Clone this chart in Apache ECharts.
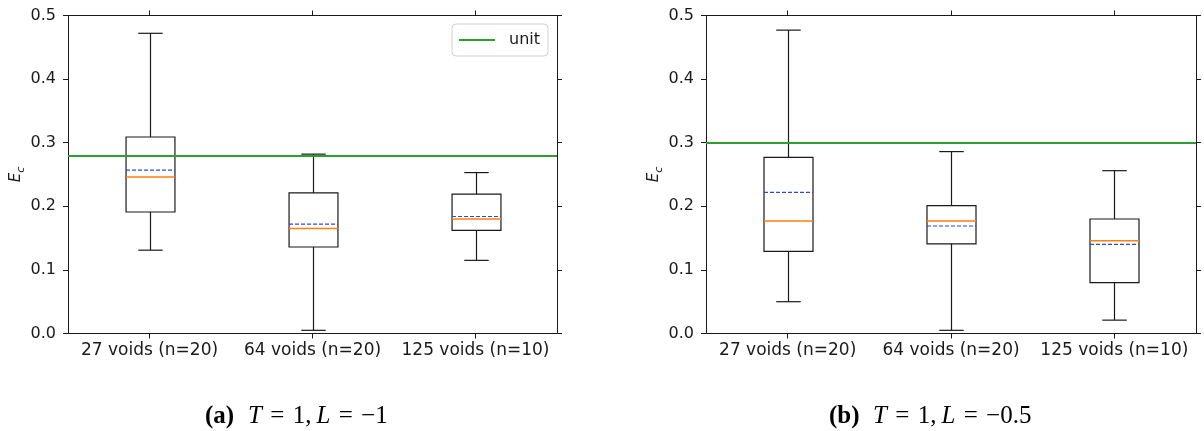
<!DOCTYPE html>
<html>
<head>
<meta charset="utf-8">
<script src="https://cdn.jsdelivr.net/npm/echarts@6/dist/echarts.min.js"></script>
<style>
  html, body { margin: 0; padding: 0; background: #fff; }
  #chart { width: 1204px; height: 431px; }
</style>
</head>
<body>
<div id="chart"></div>
<script>
// Box-plot statistics of E_c per void count
const categories = ['27 voids (n=20)', '64 voids (n=20)', '125 voids (n=10)'];
const yTicks = [0.0, 0.1, 0.2, 0.3, 0.4, 0.5];

// (a) T = 1, L = -1
const whiskerLowA  = [0.131, 0.005, 0.115];
const q1A          = [0.191, 0.136, 0.162];
const medianA      = [0.246, 0.165, 0.180];
const q3A          = [0.309, 0.221, 0.219];
const whiskerHighA = [0.472, 0.282, 0.253];
const meanA        = [0.257, 0.172, 0.184];
const unitA = 0.282;

// (b) T = 1, L = -0.5
const whiskerLowB  = [0.050, 0.005, 0.021];
const q1B          = [0.129, 0.141, 0.080];
const medianB      = [0.177, 0.177, 0.146];
const q3B          = [0.277, 0.201, 0.180];
const whiskerHighB = [0.477, 0.286, 0.256];
const meanB        = [0.222, 0.169, 0.140];
const unitB = 0.297;

const FONT = 'DejaVu Sans';
const INK = '#1a1a1a';
const ORANGE = '#ff7f0e';
const BLUE = '#3348c4';
const GREEN = '#2ca02c';

function boxRows(low, q1, med, q3, high, mean) {
  return categories.map((_, i) => [i, low[i], q1[i], med[i], q3[i], high[i], mean[i]]);
}

function renderBox(params, api) {
  const x = api.value(0);
  const band = api.size([1, 0])[0];
  const half = band * 0.15;
  const cap = half / 2;
  const p = k => api.coord([x, api.value(k)]);
  const low = p(1), q1 = p(2), med = p(3), q3 = p(4), high = p(5), mean = p(6);
  const cx = Math.round(low[0]) + 0.5;
  const line = (x1, y1, x2, y2, style) => ({
    type: 'line',
    shape: { x1, y1, x2, y2 },
    style: Object.assign({ stroke: INK, lineWidth: 1.2 }, style || {})
  });
  return {
    type: 'group',
    children: [
      line(cx, low[1], cx, q1[1]),
      line(cx, q3[1], cx, high[1]),
      line(cx - cap, low[1], cx + cap, low[1]),
      line(cx - cap, high[1], cx + cap, high[1]),
      {
        type: 'rect',
        shape: { x: cx - half, y: q3[1], width: half * 2, height: q1[1] - q3[1] },
        style: { fill: 'none', stroke: INK, lineWidth: 1.2 }
      },
      line(cx - half, med[1], cx + half, med[1], { stroke: ORANGE, lineWidth: 1.5 }),
      line(cx - half, mean[1], cx + half, mean[1], { stroke: BLUE, lineWidth: 1.2, lineDash: [4, 2] })
    ]
  };
}

const gridA = { left: 68, top: 15.5, width: 489, height: 318 };
const gridB = { left: 706, top: 15.5, width: 490, height: 318 };

function xAxes(gridIndex) {
  return [
    {
      type: 'category', gridIndex, data: categories, position: 'bottom',
      axisLine: { onZero: false, lineStyle: { color: INK, width: 1 } },
      axisTick: { show: true, interval: 0, alignWithLabel: true, length: 5, lineStyle: { color: INK } },
      axisLabel: { interval: 0, color: INK, fontFamily: FONT, fontSize: 17, margin: 9 },
      splitLine: { show: false }
    },
    {
      type: 'category', gridIndex, data: categories, position: 'top',
      axisLine: { show: true, onZero: false, lineStyle: { color: INK, width: 1 } },
      axisTick: { show: true, interval: 0, alignWithLabel: true, length: 5, lineStyle: { color: INK } },
      axisLabel: { show: false, interval: 0 },
      splitLine: { show: false }
    }
  ];
}

function yAxes(gridIndex) {
  return [
    {
      type: 'value', gridIndex, position: 'left',
      min: yTicks[0], max: yTicks[yTicks.length - 1], interval: 0.1,
      axisLine: { show: true, onZero: false, lineStyle: { color: INK, width: 1 } },
      axisTick: { show: true, length: 5, lineStyle: { color: INK } },
      axisLabel: { color: INK, fontFamily: FONT, fontSize: 16, margin: 12,
                   formatter: v => v.toFixed(1) },
      splitLine: { show: false },
      name: '{e|E}{s|c}',
      nameLocation: 'middle', nameRotate: 90, nameGap: 44,
      nameTextStyle: {
        rich: {
          e: { fontFamily: FONT, fontStyle: 'italic', fontSize: 15, color: INK, lineHeight: 20, verticalAlign: 'bottom' },
          s: { fontFamily: FONT, fontStyle: 'italic', fontSize: 11, color: INK, lineHeight: 20, verticalAlign: 'bottom', padding: [0, 0, -3, 0] }
        }
      }
    },
    {
      type: 'value', gridIndex, position: 'right',
      min: yTicks[0], max: yTicks[yTicks.length - 1], interval: 0.1,
      axisLine: { show: true, onZero: false, lineStyle: { color: INK, width: 1 } },
      axisTick: { show: true, length: 5, lineStyle: { color: INK } },
      axisLabel: { show: false },
      splitLine: { show: false }
    }
  ];
}

function unitSeries(xAxisIndex, yAxisIndex, value) {
  return {
    name: 'unit', type: 'line', xAxisIndex, yAxisIndex,
    data: [], symbol: 'none', z: 3,
    itemStyle: { color: GREEN },
    lineStyle: { color: GREEN, width: 2 },
    markLine: {
      silent: true, symbol: 'none', animation: false,
      label: { show: false },
      lineStyle: { color: GREEN, width: 2, type: 'solid' },
      data: [{ yAxis: value }]
    }
  };
}

function boxSeries(xAxisIndex, yAxisIndex, rows) {
  return {
    type: 'custom', xAxisIndex, yAxisIndex, z: 4,
    renderItem: renderBox,
    encode: { x: 0, y: [1, 2, 3, 4, 5, 6] },
    data: rows
  };
}

const captionMath = {
  b: { fontFamily: 'Liberation Serif', fontWeight: 'bold', fontSize: 25, color: '#000' },
  i: { fontFamily: 'Liberation Serif', fontStyle: 'italic', fontSize: 25, color: '#000' },
  r: { fontFamily: 'Liberation Serif', fontSize: 25, color: '#000' }
};

const chart = echarts.init(document.getElementById('chart'), null, { renderer: 'canvas' });
chart.setOption({
  animation: false,
  backgroundColor: '#fff',
  grid: [gridA, gridB],
  xAxis: [...xAxes(0), ...xAxes(1)],
  yAxis: [...yAxes(0), ...yAxes(1)],
  legend: {
    data: [{ name: 'unit', icon: 'path://M0,0 L36,0 L36,2 L0,2 Z' }],
    right: 656, top: 24,
    itemWidth: 36, itemHeight: 14,
    padding: [8, 8, 8, 7],
    borderColor: '#d0d0d0', borderWidth: 1, borderRadius: 4,
    backgroundColor: '#fff',
    textStyle: { fontFamily: FONT, fontSize: 16, color: INK, padding: [0, 0, 0, 9] }
  },
  series: [
    unitSeries(0, 0, unitA),
    boxSeries(0, 0, boxRows(whiskerLowA, q1A, medianA, q3A, whiskerHighA, meanA)),
    unitSeries(2, 2, unitB),
    boxSeries(2, 2, boxRows(whiskerLowB, q1B, medianB, q3B, whiskerHighB, meanB))
  ],
  graphic: [
    {
      type: 'text', left: 205, top: 404,
      style: { text: '{b|(a)}', rich: captionMath }
    },
    {
      type: 'text', left: 248, top: 404,
      style: { text: '{i|T}{r|\u2004=\u20041,\u2009}{i|L}{r|\u2004=\u2004\u22121}', rich: captionMath }
    },
    {
      type: 'text', left: 829, top: 404,
      style: { text: '{b|(b)}', rich: captionMath }
    },
    {
      type: 'text', left: 873, top: 404,
      style: { text: '{i|T}{r|\u2004=\u20041,\u2009}{i|L}{r|\u2004=\u2004\u22120.5}', rich: captionMath }
    }
  ]
});
</script>
</body>
</html>
